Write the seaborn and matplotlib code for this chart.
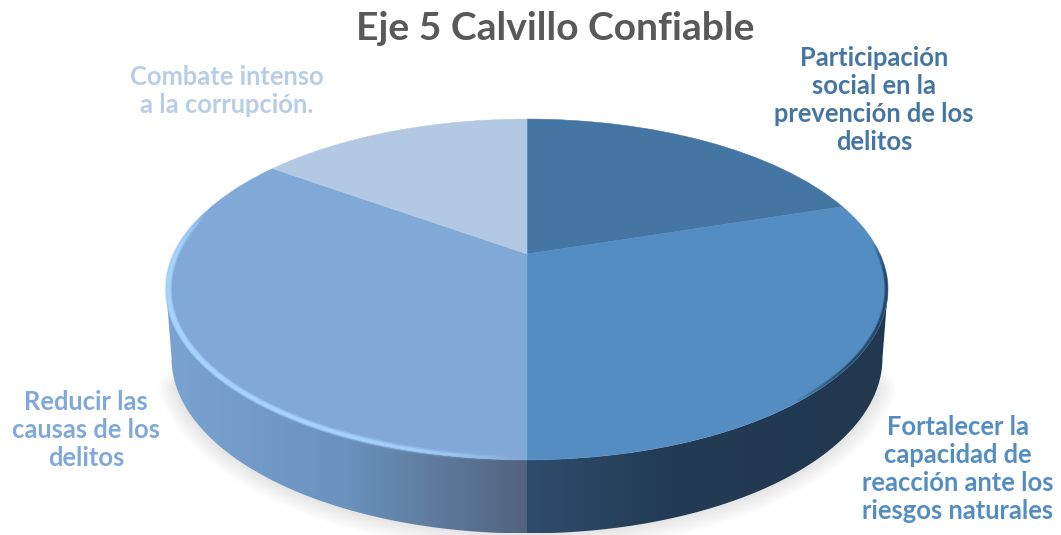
import numpy as np
import matplotlib
matplotlib.use("Agg")
import matplotlib.pyplot as plt
import matplotlib.transforms as mtransforms
from matplotlib.collections import LineCollection
from matplotlib.colors import LinearSegmentedColormap
from matplotlib.patches import Polygon
import seaborn as sns

# ==========================================
# Data
# ==========================================

title = "Eje 5 Calvillo Confiable"
labels = [
    "Participación\nsocial en la\nprevención de los\ndelitos",
    "Fortalecer la\ncapacidad de\nreacción ante los\nriesgos naturales",
    "Reducir las\ncausas de los\ndelitos",
    "Combate intenso\na la corrupción.",
]
values = [20, 30, 35, 15]
slice_colors = ["#4475a3", "#548dc2", "#80a9d7", "#b3c9e3"]
label_colors = ["#4475a3", "#548dc2", "#80a9d7", "#b8cde6"]
label_x = [874, 958, 86, 227]
label_y = [100, 469, 430, 91]

# ==========================================
# Perspective of the disc (pixel coordinates)
# ==========================================

CX, CY = 527, 254
A, B, C = 163, -0.208, 353
TOP_MID, BOTTOM_MID = 289.5, 358
DEPTH_X, DEPTH_Y = 0.985, 1.03


def project(xy):
    xy = np.asarray(xy, dtype=float)
    u, s = xy[:, 0], -xy[:, 1]
    d = 1 + B * s
    return np.column_stack([CX + C * u / d, CY + A * s / d])


class Tilt(mtransforms.Transform):
    input_dims = 2
    output_dims = 2
    is_separable = False
    has_inverse = False

    def transform_non_affine(self, values):
        return project(values)


def rim(theta, r=1.0):
    # theta runs clockwise from 12 o'clock
    return project(np.column_stack([r * np.sin(theta), r * np.cos(theta)]))


def to_bottom(pts):
    out = pts.copy()
    out[:, 0] = CX + (pts[:, 0] - CX) * DEPTH_X
    out[:, 1] = BOTTOM_MID + (pts[:, 1] - TOP_MID) * DEPTH_Y
    return out


sns.set_theme(style="white")
plt.rcParams["font.family"] = ["Lato", "DejaVu Sans"]

fig = plt.figure(figsize=(10.61, 5.35), dpi=100)
ax = fig.add_axes([0, 0, 1, 1])

# ==========================================
# Side wall and shadow
# ==========================================

theta = np.linspace(0, 2 * np.pi, 1441)
top = rim(theta)
i_right, i_left = top[:, 0].argmax(), top[:, 0].argmin()
top_front = top[i_right:i_left + 1]
bottom_front = to_bottom(top_front)

for w in np.arange(3, 30, 3):
    ax.plot(bottom_front[40:-40, 0], bottom_front[40:-40, 1] - 1, color="black", lw=w,
            alpha=0.012, solid_capstyle="round", zorder=1)

outline = np.vstack([top_front, bottom_front[::-1]])
wall = Polygon(outline, closed=True, fc="none", ec="none", zorder=2)
ax.add_patch(wall)

x0, x1 = outline[:, 0].min(), outline[:, 0].max()
mid = (CX - x0) / (x1 - x0)
wall_cmap = LinearSegmentedColormap.from_list(
    "wall",
    [(0, "#7ba3d2"), (mid * 0.5, "#6a92bd"), (mid, "#52637e"),
     (mid, "#2e4d6c"), (mid + 0.2, "#233b54"), (1, "#21384e")],
    N=1024,
)
img = ax.imshow(
    np.linspace(0, 1, 1024)[None, :],
    extent=[x0, x1, outline[:, 1].max(), outline[:, 1].min()],
    aspect="auto", cmap=wall_cmap, zorder=2,
)
img.set_clip_path(wall)

# ==========================================
# Pie
# ==========================================

wedges, _ = ax.pie(
    values,
    colors=sns.color_palette(slice_colors),
    startangle=90,
    counterclock=False,
    wedgeprops={"linewidth": 0.4},
)
tilt = Tilt()
for w, c in zip(wedges, slice_colors):
    w.set_transform(tilt + ax.transData)
    w.set_edgecolor(c)
    w.set_zorder(3)

# bevel on the rim of the pie
share = np.cumsum(values) / np.sum(values) * 2 * np.pi
arc = np.linspace(share[1], share[1] + 1.85, 400)
pts = rim(arc, 0.994)
segs = np.stack([pts[:-1], pts[1:]], axis=1)
fade = np.clip(np.sin((arc[:-1] - arc[0]) / (arc[-1] - arc[0]) * np.pi) * 1.6, 0, 1)
for lw, a in [(5, 0.15), (3.2, 0.25), (1.8, 0.45)]:
    rgba = np.tile(matplotlib.colors.to_rgba("#a9d6ff"), (len(segs), 1))
    rgba[:, 3] = fade * a
    ax.add_collection(LineCollection(segs, colors=rgba, linewidths=lw,
                                     capstyle="round", zorder=4))

arc = np.linspace(share[0] + 0.25, share[1] - 0.7, 300)
pts = rim(arc, 0.996)
segs = np.stack([pts[:-1], pts[1:]], axis=1)
fade = np.clip(np.sin((arc[:-1] - arc[0]) / (arc[-1] - arc[0]) * np.pi) * 1.5, 0, 1)
for lw, a in [(3, 0.1), (1.5, 0.2)]:
    rgba = np.tile(matplotlib.colors.to_rgba("#1f3a58"), (len(segs), 1))
    rgba[:, 3] = fade * a
    ax.add_collection(LineCollection(segs, colors=rgba, linewidths=lw,
                                     capstyle="round", zorder=4))

ax.set_aspect("auto")
ax.set_xlim(0, 1061)
ax.set_ylim(535, 0)
ax.axis("off")

# ==========================================
# Text
# ==========================================

ax.text(555, 29, title, ha="center", va="center", fontsize=28.1,
        fontweight="bold", color="#595959", zorder=5)

for text, x, y, c in zip(labels, label_x, label_y, label_colors):
    ax.text(x, y, text, ha="center", va="center", multialignment="center",
            fontsize=18.4, fontweight="bold", color=c, linespacing=1.2, zorder=5)

fig.savefig("out.png", dpi=100)
